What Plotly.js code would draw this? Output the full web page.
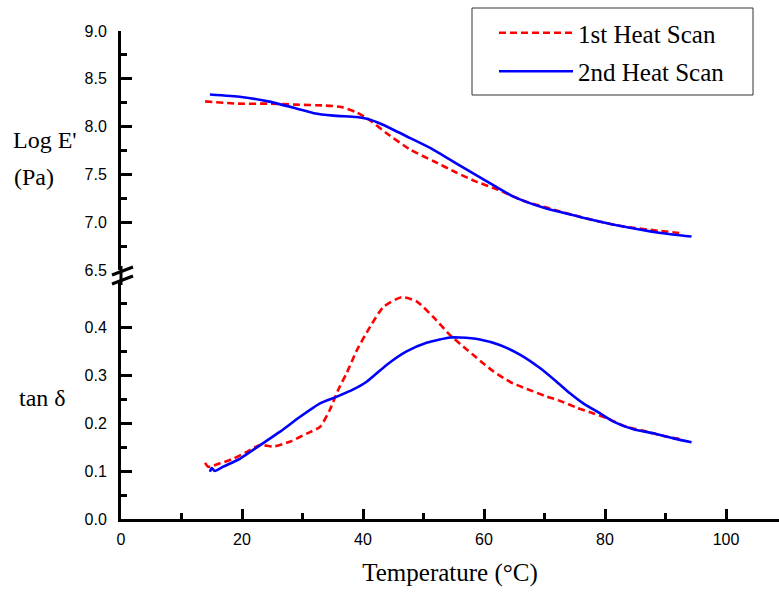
<!DOCTYPE html>
<html>
<head>
<meta charset="utf-8">
<script src="https://cdn.plot.ly/plotly-3.0.1.min.js"></script>
<style>html,body{margin:0;padding:0;background:#fff;}#chart{width:779px;height:596px;}</style>
</head>
<body>
<div id="chart"></div>
<script>
// Storage modulus (Log E', Pa) - 1st heat scan
const tempE1 = [13.9, 19.3, 24.3, 28.8, 33.8, 36.4, 38.9, 41.4, 43.9, 47.8, 51.6, 55.4, 58.5, 62.3, 66.7, 70.5, 76.2, 82.6, 88.9, 92.7];
const logE1  = [8.264, 8.24, 8.24, 8.23, 8.22, 8.205, 8.15, 8.055, 7.93, 7.76, 7.64, 7.52, 7.43, 7.34, 7.22, 7.15, 7.05, 6.96, 6.91, 6.885];
// Storage modulus - 2nd heat scan
const tempE2 = [14.7, 19.9, 24.3, 28.7, 31.9, 35.1, 38.9, 40.8, 43.3, 47.8, 51.6, 56.6, 60.4, 64.8, 69.9, 76.2, 82.6, 88.9, 94.3];
const logE2  = [8.336, 8.31, 8.264, 8.195, 8.14, 8.115, 8.10, 8.08, 8.02, 7.88, 7.76, 7.57, 7.43, 7.27, 7.15, 7.05, 6.96, 6.89, 6.85];
// tan delta - 1st heat scan
const tempT1 = [13.9, 14.4, 16.4, 18.6, 20.8, 23.0, 25.2, 27.9, 30.7, 32.9, 34.5, 35.9, 37.3, 39.0, 41.2, 43.4, 46.4, 48.9, 51.6, 54.4, 56.6, 58.2, 59.9, 61.5, 63.2, 64.8, 67.1, 70.4, 72.6, 75.3, 78.1, 80.3, 83.6, 86.9, 90.2, 92.4];
const tan1   = [0.117, 0.109, 0.116, 0.126, 0.140, 0.154, 0.151, 0.161, 0.178, 0.192, 0.227, 0.269, 0.304, 0.352, 0.401, 0.442, 0.462, 0.453, 0.421, 0.383, 0.359, 0.342, 0.324, 0.308, 0.294, 0.2825, 0.271, 0.255, 0.246, 0.232, 0.220, 0.210, 0.192, 0.182, 0.1715, 0.1667];
// tan delta - 2nd heat scan
const tempT2 = [14.7, 15.0, 15.5, 16.9, 19.7, 23.0, 26.3, 29.6, 32.9, 35.7, 38.4, 40.6, 43.9, 47.2, 50.5, 54.4, 56.0, 59.3, 62.6, 66.0, 69.3, 72.0, 74.2, 76.4, 79.2, 81.4, 84.7, 88.0, 91.3, 94.3];
const tan2   = [0.0985, 0.106, 0.100, 0.109, 0.126, 0.154, 0.182, 0.213, 0.241, 0.255, 0.270, 0.286, 0.321, 0.349, 0.367, 0.378, 0.378, 0.374, 0.3625, 0.342, 0.314, 0.286, 0.262, 0.241, 0.220, 0.203, 0.187, 0.1785, 0.168, 0.160];

const seriesNames = ['1st Heat Scan', '2nd Heat Scan'];
const xTickVals = [0, 20, 40, 60, 80, 100];

const redLine = {color: '#ff0000', width: 2.6, dash: '7px,4px', shape: 'spline', smoothing: 0.6};
const blueLine = {color: '#0000ff', width: 2.6, shape: 'spline', smoothing: 0.6};

const traces = [
  {x: tempE1, y: logE1, xaxis: 'x', yaxis: 'y2', mode: 'lines', name: seriesNames[0], legendgroup: 'g1', line: redLine},
  {x: tempE2, y: logE2, xaxis: 'x', yaxis: 'y2', mode: 'lines', name: seriesNames[1], legendgroup: 'g2', line: blueLine},
  {x: tempT1, y: tan1, xaxis: 'x', yaxis: 'y', mode: 'lines', name: seriesNames[0], legendgroup: 'g1', showlegend: false, line: redLine},
  {x: tempT2, y: tan2, xaxis: 'x', yaxis: 'y', mode: 'lines', name: seriesNames[1], legendgroup: 'g2', showlegend: false, line: blueLine}
];

const PW = 658, PH = 488; // plot area size in px
const px2x = p => (p - 121) / PW;
const px2y = p => (519 - p) / PH;

const tickFont = {family: 'Liberation Sans, Arial, sans-serif', size: 16, color: '#000'};
const serif = {family: 'Liberation Serif, Times New Roman, serif', size: 24, color: '#000'};
const serifBig = {family: 'Liberation Serif, Times New Roman, serif', size: 25, color: '#000'};

const layout = {
  width: 779, height: 596,
  margin: {l: 121, r: 0, t: 31, b: 77, pad: 0},
  paper_bgcolor: '#fff', plot_bgcolor: '#fff',
  showlegend: true,
  legend: {
    x: px2x(494), y: px2y(10), xanchor: 'left', yanchor: 'top',
    borderwidth: 0, bgcolor: 'rgba(0,0,0,0)',
    font: serifBig, tracegroupgap: 3, itemwidth: 74, traceorder: 'grouped'
  },
  xaxis: {
    domain: [0, 1], range: [0, 108.76], anchor: 'y',
    showline: true, linecolor: '#000', linewidth: 3,
    ticks: 'inside', ticklen: 10, tickwidth: 3, tickcolor: '#000',
    tickvals: xTickVals, ticktext: xTickVals.map(String),
    minor: {dtick: 10, tick0: 0, ticks: 'inside', ticklen: 6, tickwidth: 3, tickcolor: '#000', showgrid: false},
    showgrid: false, zeroline: false, tickfont: tickFont, ticklabelstandoff: 4,
    title: {text: 'Temperature (°C)', font: serifBig, standoff: 17}
  },
  yaxis: {
    domain: [0, px2y(281)], range: [0, (519 - 281) / 480], anchor: 'x',
    showline: true, linecolor: '#000', linewidth: 3,
    ticks: 'inside', ticklen: 11, tickwidth: 3, tickcolor: '#000',
    tickmode: 'linear', tick0: 0, dtick: 0.1, tickformat: '.1f',
    minor: {dtick: 0.05, tick0: 0, ticks: 'inside', ticklen: 6, tickwidth: 3, tickcolor: '#000', showgrid: false},
    showgrid: false, zeroline: false, tickfont: tickFont, ticklabelstandoff: 8
  },
  yaxis2: {
    domain: [px2y(270), 1], range: [6.5, 9.0], anchor: 'x',
    showline: true, linecolor: '#000', linewidth: 3,
    ticks: 'inside', ticklen: 11, tickwidth: 3, tickcolor: '#000',
    tickmode: 'linear', tick0: 6.5, dtick: 0.5, tickformat: '.1f',
    minor: {dtick: 0.25, tick0: 6.5, ticks: 'inside', ticklen: 6, tickwidth: 3, tickcolor: '#000', showgrid: false},
    showgrid: false, zeroline: false, tickfont: tickFont, ticklabelstandoff: 8
  },
  shapes: [
    {type: 'rect', xref: 'paper', yref: 'paper', x0: px2x(472), x1: px2x(753), y0: px2y(95), y1: px2y(8), line: {color: '#333', width: 1}, fillcolor: 'rgba(0,0,0,0)', layer: 'below'},
    {type: 'line', xref: 'paper', yref: 'paper', x0: 0, x1: 0, y0: px2y(285), y1: px2y(266), line: {color: '#000', width: 3}},
    {type: 'line', xref: 'paper', yref: 'paper', x0: px2x(112), x1: px2x(133), y0: px2y(275), y1: px2y(267), line: {color: '#000', width: 3}},
    {type: 'line', xref: 'paper', yref: 'paper', x0: px2x(112), x1: px2x(133), y0: px2y(284), y1: px2y(276), line: {color: '#000', width: 3}}
  ],
  annotations: [
    {text: "Log E'", xref: 'paper', yref: 'paper', x: px2x(11), y: px2y(140), xanchor: 'left', yanchor: 'middle', showarrow: false, font: serif},
    {text: '(Pa)', xref: 'paper', yref: 'paper', x: px2x(12), y: px2y(177), xanchor: 'left', yanchor: 'middle', showarrow: false, font: serif},
    {text: 'tan δ', xref: 'paper', yref: 'paper', x: px2x(17), y: px2y(398), xanchor: 'left', yanchor: 'middle', showarrow: false, font: serif}
  ]
};

Plotly.newPlot('chart', traces, layout, {displayModeBar: false, staticPlot: true});
</script>
</body>
</html>
